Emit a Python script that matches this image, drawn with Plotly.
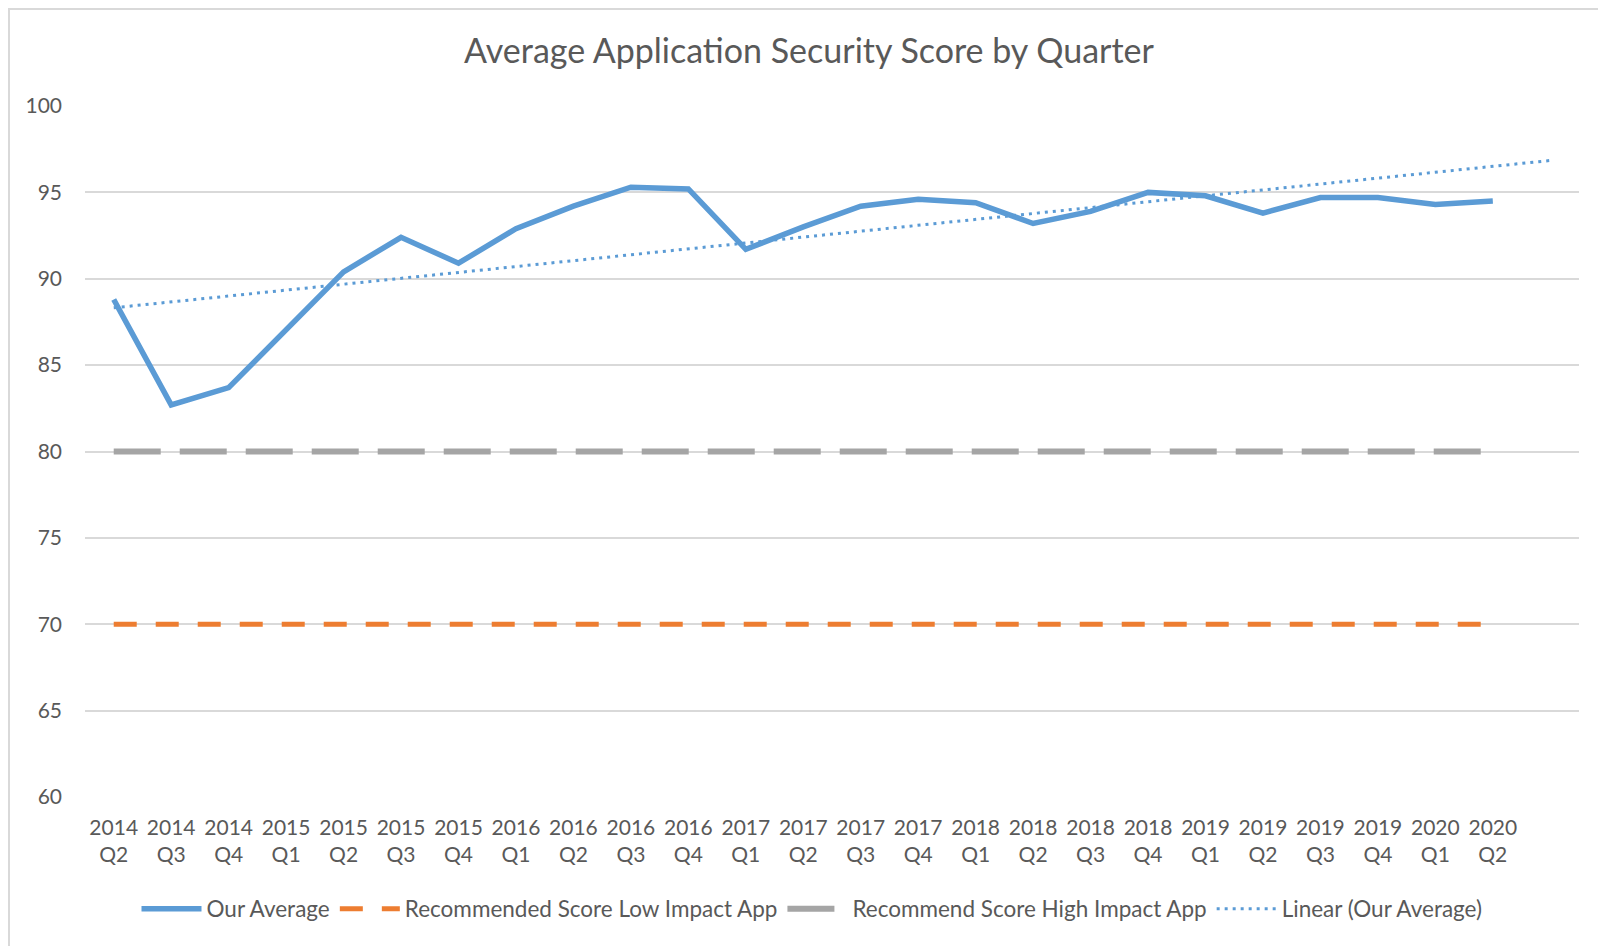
import numpy as np
import plotly.graph_objects as go

quarters = ["2014 Q2", "2014 Q3", "2014 Q4", "2015 Q1", "2015 Q2", "2015 Q3", "2015 Q4",
            "2016 Q1", "2016 Q2", "2016 Q3", "2016 Q4", "2017 Q1", "2017 Q2", "2017 Q3",
            "2017 Q4", "2018 Q1", "2018 Q2", "2018 Q3", "2018 Q4", "2019 Q1", "2019 Q2",
            "2019 Q3", "2019 Q4", "2020 Q1", "2020 Q2"]
our_average = [88.8, 82.7, 83.7, 87.0, 90.4, 92.4, 90.9, 92.9, 94.2, 95.3, 95.2, 91.7,
               93.0, 94.2, 94.6, 94.4, 93.2, 93.9, 95.0, 94.8, 93.8, 94.7, 94.7, 94.3, 94.5]
low_impact = [70] * 25
high_impact = [80] * 25
y_ticks = [60, 65, 70, 75, 80, 85, 90, 95, 100]

idx = np.arange(len(quarters))
tick_text = [q.replace(" ", "<br>") for q in quarters]

# Linear trendline, forecast forward one period (like Excel)
slope, intercept = np.polyfit(idx, our_average, 1)
trend_x = np.array([0, len(quarters)])
trend_y = intercept + slope * trend_x

FONT = "Lato"
TXT = "#595959"

W, H = 1598, 938
L, T, R, B = 77, 98, 27, 149
pw, ph = W - L - R, H - T - B

fig = go.Figure()
fig.add_trace(go.Scatter(x=idx, y=our_average, mode="lines", name="Our Average",
                         line=dict(color="#5B9BD5", width=5.5)))
fig.add_trace(go.Scatter(x=idx, y=low_impact, mode="lines", name="Recommended Score Low Impact App",
                         line=dict(color="#ED7D31", width=5, dash="23px,19px")))
fig.add_trace(go.Scatter(x=idx, y=high_impact, mode="lines", name="Recommend Score High Impact App",
                         line=dict(color="#A5A5A5", width=6, dash="47px,19px")))
fig.add_trace(go.Scatter(x=trend_x, y=trend_y, mode="lines", name="Linear (Our Average)",
                         line=dict(color="#5B9BD5", width=3, dash="3px,5px")))

fig.update_layout(
    width=W, height=H,
    paper_bgcolor="white", plot_bgcolor="white",
    margin=dict(l=L, r=R, t=T, b=B),
    font=dict(family=FONT, color=TXT, size=21),
    title=dict(text="Average Application Security Score by Quarter",
               x=(801 - L) / pw * pw / W + L / W, xanchor="center", y=1 - 43 / H, yanchor="middle",
               font=dict(family=FONT, size=34, color=TXT)),
    xaxis=dict(range=[-0.5, 25.5], tickmode="array", tickvals=idx, ticktext=tick_text,
               showgrid=False, zeroline=False, showline=False, ticks="",
               tickfont=dict(size=21, color=TXT), ticklabelstandoff=16),
    yaxis=dict(range=[60, 100], tickmode="array", tickvals=y_ticks,
               showgrid=True, gridcolor="#D9D9D9", gridwidth=1.5, zeroline=False,
               showline=False, ticks="", tickfont=dict(size=21, color=TXT),
               ticklabelstandoff=22),
    legend=dict(orientation="h", x=(804 - L) / pw, xanchor="center",
                y=-(901 - T - ph) / ph, yanchor="middle",
                font=dict(size=22.5, color=TXT), itemwidth=60, traceorder="normal",
                bgcolor="rgba(0,0,0,0)"),
    showlegend=True,
    shapes=[dict(type="rect", xref="paper", yref="paper",
                 x0=(1 - L) / pw, x1=(W + 10 - L) / pw, y0=-(B + 10) / ph, y1=(ph + T - 1) / ph,
                 line=dict(color="#D9D9D9", width=2), fillcolor="rgba(0,0,0,0)",
                 layer="below")],
)

fig.write_html("out.html")
